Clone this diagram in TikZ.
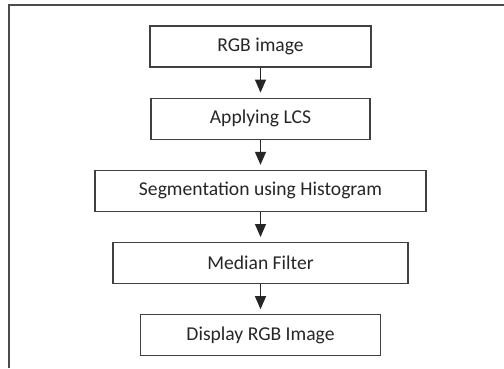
\documentclass[tikz,border=0pt]{standalone}
\usepackage{fontspec}
\setmainfont{Carlito}
\usetikzlibrary{positioning,arrows.meta}

\tikzset{
    stagebox/.style={rectangle,draw=black!75,line width=1.2pt,minimum height=41pt,
        inner sep=0pt,text=black!85,font=\fontsize{19.6}{22}\selectfont},
    flowarrow/.style={line width=1.2pt,draw=black!85,
        -{Triangle[length=13pt,width=11pt]},shorten >=5pt}
}

\begin{document}
\begin{tikzpicture}[x=1pt,y=1pt]
            \useasboundingbox (0,0) rectangle (504,-368);
            % frame (only top and left sides are visible)
            \coordinate (corner) at (9,-5);
            \coordinate (frameright) at (504,-5);
            \coordinate (framebottom) at (9,-368);
            \draw [line width=1.5pt,draw=black!70] (framebottom) -- (corner) -- (frameright);
            % stages
            \node [stagebox,minimum width=221pt] (rgb) at (260.5,-46.5) {RGB image};
            \node [stagebox,minimum width=219pt,below=30pt of rgb] (lcs) {Applying LCS};
            \node [stagebox,minimum width=331pt,below=30pt of lcs] (seg) {Segmentation using Histogram};
            \node [stagebox,minimum width=295pt,below=30pt of seg] (median) {Median Filter};
            \node [stagebox,minimum width=240pt,below=30pt of median] (display) {Display RGB Image};
            % arrows
            \foreach \a/\b in {rgb/lcs,lcs/seg,seg/median,median/display}
                \draw [flowarrow] (\a) -- (\b);
        \end{tikzpicture}
\end{document}
